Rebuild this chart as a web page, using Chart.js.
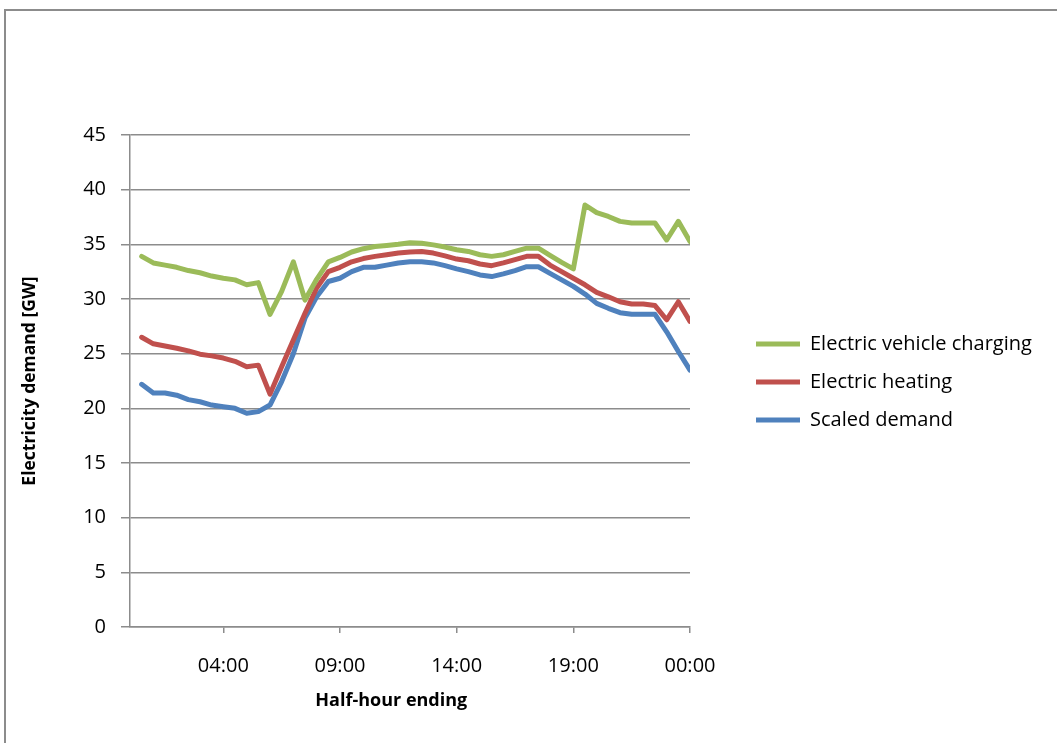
<!DOCTYPE html>
<html>
<head>
<meta charset="utf-8">
<script src="https://cdn.jsdelivr.net/npm/chart.js@4"></script>
<style>
  html, body { margin: 0; padding: 0; background: #fff; }
  #wrap { position: relative; width: 1057px; height: 743px; overflow: hidden; background: #fff; }
  #frame { position: absolute; left: 4px; top: 9px; width: 1200px; height: 900px;
           border-left: 2px solid #8c8c8c; border-top: 2px solid #8c8c8c; }
  canvas { position: absolute; left: 0; top: 0; }
</style>
</head>
<body>
<div id="wrap">
  <div id="frame"></div>
  <canvas id="demandChart" width="1057" height="743"></canvas>
</div>
<script>
// Half-hour periods (each label is the end of the half-hour)
const halfHours = [
  '00:30','01:00','01:30','02:00','02:30','03:00','03:30','04:00','04:30','05:00','05:30','06:00',
  '06:30','07:00','07:30','08:00','08:30','09:00','09:30','10:00','10:30','11:00','11:30','12:00',
  '12:30','13:00','13:30','14:00','14:30','15:00','15:30','16:00','16:30','17:00','17:30','18:00',
  '18:30','19:00','19:30','20:00','20:30','21:00','21:30','22:00','22:30','23:00','23:30','00:00'
];

// Labels shown on the time axis
const tickLabels = ['04:00', '09:00', '14:00', '19:00', '00:00'];

// Electricity demand [GW]
const evCharging = [
  33.9, 33.3, 33.1, 32.9, 32.6, 32.4, 32.1, 31.9, 31.75, 31.3, 31.5, 28.6,
  30.7, 33.4, 29.9, 31.8, 33.4, 33.8, 34.3, 34.6, 34.8, 34.9, 35.0, 35.15,
  35.1, 34.95, 34.75, 34.5, 34.35, 34.05, 33.9, 34.05, 34.35, 34.65, 34.65, 34.0,
  33.35, 32.75, 38.6, 37.9, 37.55, 37.1, 36.95, 36.95, 36.95, 35.4, 37.1, 35.25
];
const electricHeating = [
  26.5, 25.9, 25.7, 25.5, 25.25, 24.95, 24.8, 24.6, 24.3, 23.8, 23.95, 21.3,
  23.8, 26.25, 28.7, 31.0, 32.5, 32.9, 33.4, 33.7, 33.9, 34.05, 34.2, 34.3,
  34.35, 34.2, 33.95, 33.65, 33.5, 33.2, 33.05, 33.3, 33.6, 33.9, 33.9, 33.1,
  32.5, 31.9, 31.3, 30.6, 30.2, 29.75, 29.55, 29.55, 29.4, 28.1, 29.75, 27.95
];
const scaledDemand = [
  22.2, 21.4, 21.4, 21.2, 20.8, 20.6, 20.3, 20.15, 20.0, 19.55, 19.7, 20.3,
  22.45, 25.0, 28.25, 30.2, 31.6, 31.9, 32.5, 32.9, 32.9, 33.1, 33.3, 33.4,
  33.4, 33.3, 33.05, 32.75, 32.5, 32.2, 32.05, 32.3, 32.6, 32.95, 32.95, 32.35,
  31.75, 31.15, 30.45, 29.6, 29.15, 28.75, 28.6, 28.6, 28.6, 27.0, 25.2, 23.5
];

// Period n sits at n half-hours after midnight
const toPoints = values => values.map((v, i) => ({ x: i + 1, y: v }));

const FONT = "'Open Sans', 'Liberation Sans', sans-serif";
const axisGray = '#8c8c8c';
const textColor = '#000000';

const lineStyle = color => ({
  borderColor: color,
  backgroundColor: color,
  borderWidth: 5,
  borderJoinStyle: 'round',
  borderCapStyle: 'round',
  pointRadius: 0,
  pointHoverRadius: 0,
  tension: 0,
  fill: false
});

// Puts the legend block to the right of the plot, beside the lines
const legendPlacement = {
  id: 'legendPlacement',
  afterLayout(chart) {
    const lg = chart.legend;
    if (!lg) return;
    lg.left = 738; lg.right = 1057; lg.width = lg.right - lg.left;
    lg.top = 232; lg.bottom = 532; lg.height = lg.bottom - lg.top;
  }
};

new Chart(document.getElementById('demandChart'), {
  type: 'line',
  data: {
    datasets: [
      { label: 'Electric vehicle charging', data: toPoints(evCharging), ...lineStyle('#9bbb59') },
      { label: 'Electric heating', data: toPoints(electricHeating), ...lineStyle('#c0504d') },
      { label: 'Scaled demand', data: toPoints(scaledDemand), ...lineStyle('#4f81bd') }
    ]
  },
  options: {
    responsive: false,
    animation: false,
    events: [],
    layout: { padding: { top: 135, left: 0, right: 117, bottom: 0 } },
    scales: {
      x: {
        type: 'linear',
        min: 0,
        max: halfHours.length,
        afterBuildTicks: scale => {
          scale.ticks = tickLabels.map(l => ({ value: halfHours.indexOf(l) + 1 }));
        },
        afterFit: scale => { scale.height = 116; },
        ticks: {
          autoSkip: false,
          maxRotation: 0,
          padding: 21,
          color: textColor,
          font: { family: FONT, size: 20 },
          callback: v => halfHours[v - 1]
        },
        grid: {
          drawOnChartArea: false,
          drawTicks: true,
          tickLength: 6,
          color: axisGray,
          lineWidth: 1.5
        },
        border: { display: true, color: axisGray, width: 1.5 },
        title: {
          display: true,
          text: 'Half-hour ending        ',
          color: textColor,
          font: { family: FONT, size: 18, weight: 'bold' },
          padding: { top: 0, bottom: 31 }
        }
      },
      y: {
        min: 0,
        max: 45,
        afterFit: scale => { scale.width = 130; },
        ticks: {
          stepSize: 5,
          padding: 15,
          color: textColor,
          font: { family: FONT, size: 20 }
        },
        grid: {
          color: axisGray,
          lineWidth: 1.5,
          drawTicks: true,
          tickLength: 9
        },
        border: { display: true, color: axisGray, width: 1.5 },
        title: {
          display: true,
          text: 'Electricity demand [GW]',
          color: textColor,
          font: { family: FONT, size: 17.5, weight: 'bold' },
          padding: { top: 19.5, bottom: 0 }
        }
      }
    },
    plugins: {
      legend: {
        position: 'right',
        align: 'center',
        maxWidth: 250,
        labels: {
          usePointStyle: true,
          pointStyle: 'line',
          pointStyleWidth: 44,
          padding: 18,
          color: textColor,
          font: { family: FONT, size: 20 }
        }
      },
      tooltip: { enabled: false }
    }
  },
  plugins: [legendPlacement]
});
</script>
</body>
</html>
